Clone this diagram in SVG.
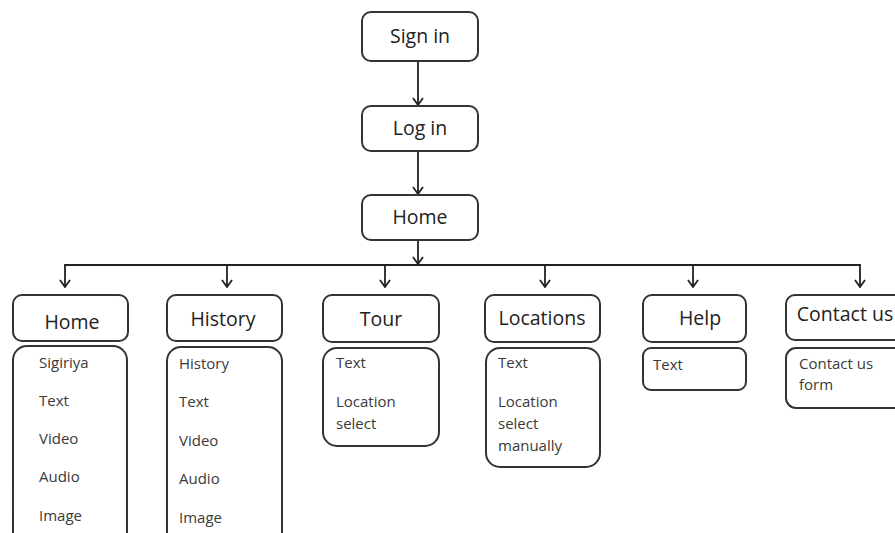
<svg xmlns="http://www.w3.org/2000/svg" width="895" height="533" viewBox="0 0 895 533">
<style>
.box{fill:#fff;stroke:#333;stroke-width:2}
.h{font-family:"Open Sans","Noto Sans",sans-serif;font-size:19.5px;fill:#222;text-anchor:middle}
.b{font-family:"Open Sans","Noto Sans",sans-serif;font-size:15px;fill:#3a3a3a}
.c{fill:none;stroke:#222;stroke-width:1.8}
</style>
<defs>
<marker id="arr" viewBox="0 0 12 12" refX="11" refY="6" markerWidth="12" markerHeight="12" markerUnits="userSpaceOnUse" orient="auto-start-reverse">
<path d="M4,1 L11,6 L4,11" fill="none" stroke="#222" stroke-width="1.8"/>
</marker>
</defs>
<rect width="895" height="533" fill="#fff"/>
<g id="connectors">
<line class="c" x1="418" y1="61" x2="418" y2="105" marker-end="url(#arr)"/>
<line class="c" x1="418" y1="151" x2="418" y2="194" marker-end="url(#arr)"/>
<line class="c" x1="418" y1="240" x2="418" y2="264" marker-end="url(#arr)"/>
<path class="c" d="M65,287 V265 H860 V287" marker-start="url(#arr)" marker-end="url(#arr)"/>
<line class="c" x1="227" y1="265" x2="227" y2="287" marker-end="url(#arr)"/>
<line class="c" x1="385" y1="265" x2="385" y2="287" marker-end="url(#arr)"/>
<line class="c" x1="545" y1="265" x2="545" y2="287" marker-end="url(#arr)"/>
<line class="c" x1="693" y1="265" x2="693" y2="287" marker-end="url(#arr)"/>
</g>
<g id="signin"><rect class="box" x="362" y="12" width="116" height="49" rx="9"/><text class="h" x="420" y="43">Sign in</text></g>
<g id="login"><rect class="box" x="362" y="106" width="116" height="45" rx="9"/><text class="h" x="420" y="135">Log in</text></g>
<g id="home"><rect class="box" x="362" y="195" width="116" height="45" rx="9"/><text class="h" x="420" y="224">Home</text></g>
<g id="home2">
<rect class="box" x="13" y="295" width="115" height="46" rx="9"/><text class="h" x="72" y="329">Home</text>
<rect class="box" x="13" y="346" width="114" height="200" rx="14"/>
<text class="b" x="39" y="368">Sigiriya</text><text class="b" x="39" y="406">Text</text><text class="b" x="39" y="444">Video</text><text class="b" x="39" y="482">Audio</text><text class="b" x="39" y="521">Image</text>
</g>
<g id="history">
<rect class="box" x="167" y="295" width="115" height="46" rx="9"/><text class="h" x="223" y="326">History</text>
<rect class="box" x="167" y="347" width="115" height="200" rx="14"/>
<text class="b" x="179" y="369">History</text><text class="b" x="179" y="407">Text</text><text class="b" x="179" y="446">Video</text><text class="b" x="179" y="484">Audio</text><text class="b" x="179" y="523">Image</text>
</g>
<g id="tour">
<rect class="box" x="323" y="295" width="116" height="47" rx="9"/><text class="h" x="381" y="326">Tour</text>
<rect class="box" x="323" y="348" width="116" height="98" rx="14"/>
<text class="b" x="336" y="368">Text</text><text class="b" x="336" y="407">Location</text><text class="b" x="336" y="429">select</text>
</g>
<g id="locations">
<rect class="box" x="485" y="295" width="115" height="47" rx="9"/><text class="h" x="542" y="325">Locations</text>
<rect class="box" x="486" y="348" width="114" height="119" rx="14"/>
<text class="b" x="498" y="368">Text</text><text class="b" x="498" y="407">Location</text><text class="b" x="498" y="429">select</text><text class="b" x="498" y="451">manually</text>
</g>
<g id="help">
<rect class="box" x="643" y="295" width="103" height="47" rx="9"/><text class="h" x="700" y="325">Help</text>
<rect class="box" x="643" y="348" width="103" height="42" rx="8"/>
<text class="b" x="653" y="370">Text</text>
</g>
<g id="contact">
<rect class="box" x="786" y="295" width="120" height="45" rx="9"/><text class="h" x="845" y="321">Contact us</text>
<rect class="box" x="786" y="348" width="120" height="60" rx="10"/>
<text class="b" x="799" y="369">Contact us</text><text class="b" x="799" y="390">form</text>
</g>
</svg>
